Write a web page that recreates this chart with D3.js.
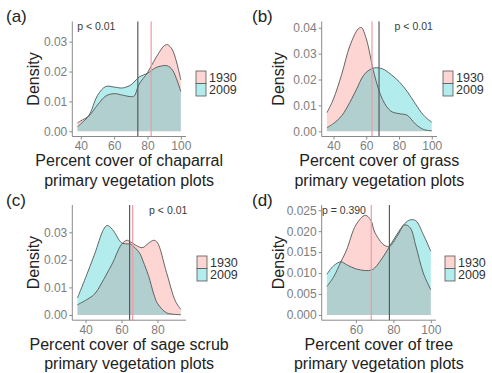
<!DOCTYPE html>
<html>
<head>
<meta charset="utf-8">
<script src="https://cdn.jsdelivr.net/npm/d3@7"></script>
<style>
  body { margin: 0; background: white; }
  svg { display: block; font-family: "Liberation Sans", Arial, sans-serif; }
</style>
</head>
<body>
<script>
var years = ["1930", "2009"];

var xChaparral = [38, 40, 45, 50, 55, 60, 65, 70, 72, 75, 80, 85, 90, 92, 95, 100];
var chaparral1930 = [0.0028, 0.0035, 0.0052, 0.0088, 0.0118, 0.0126, 0.0121, 0.0116, 0.0118, 0.0158, 0.0196, 0.0246, 0.0286, 0.029, 0.0272, 0.0172];
var chaparral2009 = [0.0015, 0.0025, 0.0054, 0.012, 0.015, 0.0148, 0.0145, 0.0155, 0.0165, 0.0182, 0.0194, 0.0213, 0.022, 0.0219, 0.0205, 0.0133];
var chaparralMeans = [82.2, 74.2];

var xGrass = [36, 40, 45, 50, 55, 57, 60, 65, 70, 75, 80, 85, 90, 95, 100];
var grass1930 = [0.0072, 0.0125, 0.022, 0.033, 0.0395, 0.0401, 0.0358, 0.0218, 0.0122, 0.0078, 0.0068, 0.0062, 0.0028, 0.0007, 0.0002];
var grass2009 = [0.0014, 0.003, 0.006, 0.0112, 0.0175, 0.0202, 0.0228, 0.0245, 0.0241, 0.022, 0.0192, 0.0154, 0.0106, 0.0062, 0.0035];
var grassMeans = [63.5, 67.8];

var xSage = [35.5, 40, 45, 50, 52, 55, 60, 63, 65, 70, 72, 75, 78, 80, 85, 90, 93];
var sage1930 = [0.0037, 0.0053, 0.0076, 0.0128, 0.0152, 0.0188, 0.0256, 0.0271, 0.0265, 0.0246, 0.0245, 0.026, 0.0271, 0.0262, 0.0155, 0.005, 0.002];
var sage2009 = [0.0062, 0.0135, 0.022, 0.031, 0.0325, 0.031, 0.0262, 0.0258, 0.0257, 0.0225, 0.0195, 0.0143, 0.0075, 0.0042, 0.0008, 0.0002, 0.0001];
var sageMeans = [66.2, 64.5];

var xTree = [44.5, 48, 52, 55, 60, 65, 68, 70, 75, 78, 82, 86, 89, 92, 96, 100];
var tree1930 = [0.0068, 0.009, 0.0127, 0.0155, 0.0215, 0.0238, 0.0226, 0.0198, 0.0167, 0.0164, 0.0188, 0.0215, 0.0208, 0.0165, 0.01, 0.006];
var tree2009 = [0.0097, 0.0117, 0.0127, 0.012, 0.011, 0.0106, 0.0107, 0.0112, 0.0142, 0.0164, 0.0193, 0.0218, 0.0227, 0.0225, 0.0192, 0.0152];
var treeMeans = [68.2, 77.9];

var pLabels = ["p < 0.01", "p < 0.01", "p < 0.01", "p = 0.390"];
var covers = ["chaparral", "grass", "sage scrub", "tree"];
var xTicksList = [[40, 60, 80, 100], [40, 60, 80, 100], [40, 60, 80], [60, 80, 100]];
var yTicksList = [[0, 0.01, 0.02, 0.03], [0, 0.01, 0.02, 0.03, 0.04], [0, 0.01, 0.02, 0.03],
                  [0, 0.005, 0.01, 0.015, 0.02, 0.025]];

var panelData = [
  {x: xChaparral, s: [chaparral1930, chaparral2009], means: chaparralMeans},
  {x: xGrass, s: [grass1930, grass2009], means: grassMeans},
  {x: xSage, s: [sage1930, sage2009], means: sageMeans},
  {x: xTree, s: [tree1930, tree2009], means: treeMeans}
];

// layout of the four plots
var layout = [
  {tag: "(a)", left: 72.3, right: 186, top: 21.5, bottom: 136.5, legX: 196, legY: 71, pX: 49.3, pY: 0.035, yFmt: ".2f", tagX: 6, titleX: 33},
  {tag: "(b)", left: 321.7, right: 437, top: 21.5, bottom: 136.5, legX: 443, legY: 71, pX: 89, pY: 0.0404, yFmt: ".2f", tagX: 252, titleX: 278},
  {tag: "(c)", left: 72.3, right: 186, top: 205, bottom: 320.2, legX: 197, legY: 256, pX: 86, pY: 0.038, yFmt: ".2f", tagX: 6, titleX: 33},
  {tag: "(d)", left: 321.7, right: 436, top: 205, bottom: 320.2, legX: 445, legY: 256, pX: 53.6, pY: 0.025, yFmt: ".3f", tagX: 252, titleX: 278}
];

var fills = ["#F8766D", "#00BFC4"];
var meanColors = ["#ef9aa6", "#5a5a5a"];

var width = 492, height = 373;
var svg = d3.select("body").append("svg")
    .attr("width", width)
    .attr("height", height);

layout.forEach(function (L, i) {
  var D = panelData[i];
  var lo = d3.min(D.x), hi = d3.max(D.x);
  var ex = 0.05 * (hi - lo);
  var x = d3.scaleLinear().domain([lo - ex, hi + ex]).range([L.left, L.right]);
  var M = Math.max(d3.max(D.s[0]), d3.max(D.s[1]), L.pY);
  var y = d3.scaleLinear().domain([-0.05 * M, 1.05 * M]).range([L.bottom, L.top]);

  var g = svg.append("g");

  // density areas
  var area = d3.area()
      .x(function (d) { return x(d[0]); })
      .y0(y(0))
      .y1(function (d) { return y(d[1]); })
      .curve(d3.curveCatmullRom);
  var line = d3.line()
      .x(function (d) { return x(d[0]); })
      .y(function (d) { return y(d[1]); })
      .curve(d3.curveCatmullRom);

  D.s.forEach(function (vals, k) {
    var pts = D.x.map(function (xv, j) { return [xv, vals[j]]; });
    g.append("path")
        .attr("d", area(pts))
        .attr("fill", fills[k])
        .attr("fill-opacity", 0.3);
  });
  D.s.forEach(function (vals, k) {
    var pts = D.x.map(function (xv, j) { return [xv, vals[j]]; });
    g.append("path")
        .attr("d", line(pts))
        .attr("fill", "none")
        .attr("stroke", "#555")
        .attr("stroke-width", 0.9);
  });

  // mean lines
  D.means.forEach(function (m, k) {
    g.append("line")
        .attr("x1", x(m)).attr("x2", x(m))
        .attr("y1", L.top).attr("y2", L.bottom)
        .attr("stroke", meanColors[k])
        .attr("stroke-width", 1.2);
  });

  // axes
  var xAxis = d3.axisBottom(x).tickValues(xTicksList[i]).tickSize(3).tickPadding(2);
  var yAxis = d3.axisLeft(y).tickValues(yTicksList[i]).tickSize(3).tickPadding(2)
      .tickFormat(d3.format(L.yFmt));

  var gx = g.append("g").attr("transform", "translate(0," + L.bottom + ")").call(xAxis);
  var gy = g.append("g").attr("transform", "translate(" + L.left + ",0)").call(yAxis);
  [gx, gy].forEach(function (ax) {
    ax.select(".domain").attr("stroke", "#8a8a8a").attr("stroke-width", 1);
    ax.selectAll(".tick line").attr("stroke", "#8a8a8a");
    ax.selectAll(".tick text").attr("fill", "#7d7d7d").style("font-size", "12px");
  });
  gx.select(".domain").attr("d", "M" + L.left + ",0H" + L.right);
  gy.select(".domain").attr("d", "M0," + L.top + "V" + L.bottom);

  // p-value annotation
  g.append("text")
      .attr("x", x(L.pX))
      .attr("y", y(L.pY))
      .attr("dy", "0.35em")
      .attr("text-anchor", "middle")
      .attr("fill", "#3a3a3a")
      .style("font-size", "10.5px")
      .text(pLabels[i]);

  // axis titles
  var cx = (L.left + L.right) / 2;
  g.append("text")
      .attr("x", cx).attr("y", L.bottom + 29.5)
      .attr("text-anchor", "middle")
      .attr("fill", "#222")
      .style("font-size", "16px")
      .text("Percent cover of " + covers[i]);
  g.append("text")
      .attr("x", cx).attr("y", L.bottom + 49)
      .attr("text-anchor", "middle")
      .attr("fill", "#222")
      .style("font-size", "16px")
      .text("primary vegetation plots");

  g.append("text")
      .attr("transform", "translate(" + L.titleX + "," + ((L.top + L.bottom) / 2) + ") rotate(-90)")
      .attr("dy", "0.35em")
      .attr("text-anchor", "middle")
      .attr("fill", "#222")
      .style("font-size", "16px")
      .text("Density");

  // panel tag
  g.append("text")
      .attr("x", L.tagX).attr("y", L.top + 0.5)
      .attr("fill", "#222")
      .style("font-size", "17px")
      .text(L.tag);

  // legend
  years.forEach(function (yr, k) {
    g.append("rect")
        .attr("x", L.legX).attr("y", L.legY + k * 12.5)
        .attr("width", 10).attr("height", 12.5)
        .attr("fill", d3.interpolateRgb("white", fills[k])(0.3))
        .attr("stroke", "#555")
        .attr("stroke-width", 0.8);
    g.append("text")
        .attr("x", L.legX + 13).attr("y", L.legY + k * 12.5 + 6.5)
        .attr("dy", "0.35em")
        .attr("fill", "#333")
        .style("font-size", "12.5px")
        .text(yr);
  });
});
</script>
</body>
</html>
